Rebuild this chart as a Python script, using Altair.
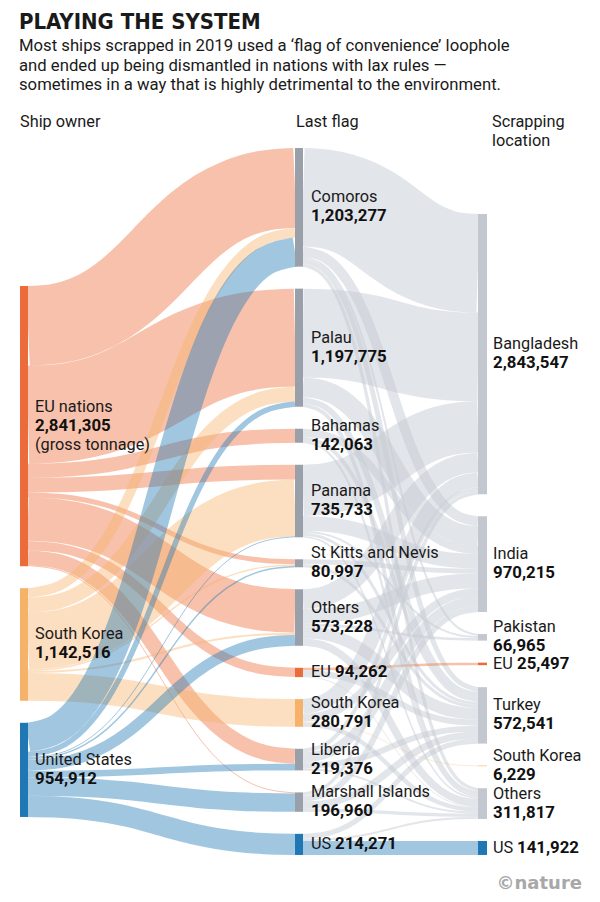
import altair as alt
import pandas as pd

# ---------------- data ----------------
owners = ["EU nations", "South Korea", "United States"]
owner_tonnage = [2841305, 1142516, 954912]

flags = ["Comoros", "Palau", "Bahamas", "Panama", "St Kitts and Nevis", "Others",
         "EU", "South Korea", "Liberia", "Marshall Islands", "US"]
flag_tonnage = [1203277, 1197775, 142063, 735733, 80997, 573228,
                94262, 280791, 219376, 196960, 214271]

sites = ["Bangladesh", "India", "Pakistan", "EU", "Turkey", "South Korea", "Others", "US"]
site_tonnage = [2843547, 970215, 66965, 25497, 572541, 6229, 311817, 141922]

# estimated flows owner -> last flag (thousand tonnes), in flag order
eu_owner_flows = [809, 993, 142, 150, 51, 440, 94, 0, 152, 10, 0]
sk_owner_flows = [100, 150, 0, 575, 15, 20, 0, 281, 0, 0, 0]
us_owner_flows = [294, 55, 0, 10, 15, 113, 0, 0, 67, 187, 214]

# estimated flows last flag -> scrapping site (thousand tonnes), in site order
comoros_flows = [1000, 100, 20, 0, 50, 0, 33, 0]
palau_flows = [900, 200, 0, 0, 60, 0, 38, 0]
bahamas_flows = [0, 80, 0, 0, 40, 0, 22, 0]
panama_flows = [520, 150, 20, 0, 30, 0, 16, 0]
stkitts_flows = [0, 50, 0, 0, 31, 0, 0, 0]
others_flag_flows = [200, 150, 27, 0, 120, 0, 76, 0]
eu_flag_flows = [0, 0, 0, 25.5, 60, 0, 8.7, 0]
sk_flag_flows = [150, 80, 0, 0, 0, 6.2, 44.6, 0]
liberia_flows = [40, 100, 0, 0, 60, 0, 19, 0]
marshall_flows = [34, 60, 0, 0, 70, 0, 33, 0]
us_flag_flows = [0, 0, 0, 0, 52, 0, 20, 142]

# ---------------- layout (style) ----------------
K = 98.6 / 1e6          # px per tonne
GAP = 22
COLX = [(20, 28), (295, 303), (478, 487)]
COLTOP = [286, 148, 214]
EU_C, SK_C, US_C = "#ec6b3a", "#f7b26a", "#1f78b4"
GREY_LINK = "#c6ccd4"
special = {"EU": EU_C, "EU nations": EU_C, "South Korea": SK_C,
           "United States": US_C, "US": US_C}
grp_of = {"EU nations": "EU", "South Korea": "SK", "United States": "US",
          "EU": "EU", "US": "US"}
T_STEPS = [i / 12 for i in range(13)]


def place(names, values, col, default_fill):
    out, y = [], COLTOP[col]
    for n, v in zip(names, values):
        h = v * K
        out.append(dict(name=n, value=v, x=COLX[col][0], x2=COLX[col][1],
                        y=y, y2=y + h, fill=special.get(n, default_fill)))
        y += h + GAP
    return out


col_owner = place(owners, owner_tonnage, 0, "#999")
col_flag = place(flags, flag_tonnage, 1, "#9aa0a9")
col_site = place(sites, site_tonnage, 2, "#c3c8d0")

left_matrix = [eu_owner_flows, sk_owner_flows, us_owner_flows]
right_matrix = [comoros_flows, palau_flows, bahamas_flows, panama_flows, stkitts_flows,
                others_flag_flows, eu_flag_flows, sk_flag_flows, liberia_flows,
                marshall_flows, us_flag_flows]


def link_rows(src, tgt, matrix, xa, xb, prefix, side):
    rows = []
    s_off = [n["y"] for n in src]
    t_off = [n["y"] for n in tgt]
    sy, ty = {}, {}
    for i in range(len(src)):
        for j in range(len(tgt)):
            f = matrix[i][j] * 1000
            if f > 0:
                w = f * K
                sy[(i, j)] = s_off[i] + w / 2
                s_off[i] += w
    for j in range(len(tgt)):
        for i in range(len(src)):
            f = matrix[i][j] * 1000
            if f > 0:
                w = f * K
                ty[(j, i)] = t_off[j] + w / 2
                t_off[j] += w
    xm = (xa + xb) / 2
    for i in range(len(src)):
        for j in range(len(tgt)):
            f = matrix[i][j] * 1000
            if f <= 0:
                continue
            if side == "left":
                g = grp_of[src[i]["name"]]
            else:
                a, b = src[i]["name"], tgt[j]["name"]
                if a == b and a == "South Korea":
                    g = "SK"
                elif a == b:
                    g = grp_of.get(a, "grey")
                else:
                    g = "grey"
            y0, y1 = sy[(i, j)], ty[(j, i)]
            lid = f"{prefix}{i}_{j}"
            # cubic bezier link path (control points at mid-x), as a sankey link generator
            for k, t in enumerate(T_STEPS):
                u = 1 - t
                x = u ** 3 * xa + 3 * u * u * t * xm + 3 * u * t * t * xm + t ** 3 * xb
                y = (u ** 3 + 3 * u * u * t) * y0 + (3 * u * t * t + t ** 3) * y1
                rows.append(dict(lid=lid, step=k, x=x, y=y, w=f, grp=g,
                                 op=0.42 if g != "grey" else 0.5))
    return rows


links = pd.DataFrame(
    link_rows(col_owner, col_flag, left_matrix, COLX[0][1], COLX[1][0], "L", "left")
    + link_rows(col_flag, col_site, right_matrix, COLX[1][1], COLX[2][0], "R", "right")
)
nodes = pd.DataFrame(col_owner + col_flag + col_site)

# labels
lab = []


def add(x, y, text, bold):
    lab.append(dict(x=x, y=y, text=text, bold=bold))


for n in col_owner:
    c = (n["y"] + n["y2"]) / 2
    if n["name"] == "EU nations":
        add(35, c - 19, n["name"], False)
        add(35, c, f"{n['value']:,}", True)
        add(35, c + 19, "(gross tonnage)", False)
    else:
        add(35, c - 10, n["name"], False)
        add(35, c + 9, f"{n['value']:,}", True)

for col, x0 in [(col_flag, 311), (col_site, 493)]:
    for n in col:
        c = (n["y"] + n["y2"]) / 2
        if n["name"] in ("EU", "US"):
            add(x0, c, n["name"], False)
            add(x0 + 24, c, f"{n['value']:,}", True)
        else:
            add(x0, c - 10, n["name"], False)
            add(x0, c + 9, f"{n['value']:,}", True)
labels = pd.DataFrame(lab)

# ---------------- chart ----------------
XS = alt.Scale(domain=[8, 592])
YS = alt.Scale(domain=[8, 894], reverse=True)
FONT = "Roboto"

link_layer = alt.Chart(links).mark_line(
    interpolate="monotone", strokeCap="butt", strokeJoin="round"
).encode(
    x=alt.X("x:Q", scale=XS, axis=None),
    y=alt.Y("y:Q", scale=YS, axis=None),
    detail="lid:N",
    order=alt.Order("step:Q"),
    color=alt.Color("grp:N", scale=alt.Scale(domain=["EU", "SK", "US", "grey"],
                                              range=[EU_C, SK_C, US_C, GREY_LINK]),
                    legend=None),
    strokeWidth=alt.StrokeWidth("w:Q", scale=alt.Scale(domain=[0, 1e6], range=[0, 98.6]),
                                legend=None),
    opacity=alt.Opacity("op:Q", scale=None),
)

node_layer = alt.Chart(nodes).mark_rect().encode(
    x=alt.X("x:Q", scale=XS, axis=None), x2="x2:Q",
    y=alt.Y("y:Q", scale=YS, axis=None), y2="y2:Q",
    color=alt.Color("fill:N", scale=None),
)

lab_reg = alt.Chart(labels[~labels.bold]).mark_text(
    align="left", baseline="middle", font=FONT, fontSize=16.3, color="#1a1a1a"
).encode(x=alt.X("x:Q", scale=XS, axis=None), y=alt.Y("y:Q", scale=YS, axis=None), text="text:N")

lab_bold = alt.Chart(labels[labels.bold]).mark_text(
    align="left", baseline="middle", font=FONT, fontSize=16.8, fontWeight="bold", color="#111"
).encode(x=alt.X("x:Q", scale=XS, axis=None), y=alt.Y("y:Q", scale=YS, axis=None), text="text:N")


def txt(s, x, y, size, weight="normal", font=FONT, color="#1a1a1a", align="left"):
    return alt.Chart(pd.DataFrame({"t": [s]})).mark_text(
        align=align, baseline="middle", font=font, fontSize=size, fontWeight=weight, color=color
    ).encode(x=alt.value(x - 8), y=alt.value(y - 8), text="t:N")


title = txt("PLAYING THE SYSTEM", 19, 22, 22, "bold", "DejaVu Sans Condensed")
sub1 = txt("Most ships scrapped in 2019 used a \u2018flag of convenience\u2019 loophole", 19, 46, 16.7)
sub2 = txt("and ended up being dismantled in nations with lax rules \u2014", 19, 66, 16.7)
sub3 = txt("sometimes in a way that is highly detrimental to the environment.", 19, 85, 16.7)
h1 = txt("Ship owner", 20, 122, 16.3)
h2 = txt("Last flag", 296, 122, 16.3)
h3 = txt("Scrapping", 492, 122, 16.3)
h4 = txt("location", 492, 141, 16.3)
foot = txt("\u00a9nature", 582, 884, 18, "bold", "DejaVu Sans", "#a8a8a8", "right")

chart = alt.layer(
    link_layer, node_layer, lab_reg, lab_bold,
    title, sub1, sub2, sub3, h1, h2, h3, h4, foot
).properties(
    width=584, height=886, padding=0, autosize="none"
).configure_view(stroke=None)

chart.save("out.html", embed_options={"renderer": "svg", "actions": False})
